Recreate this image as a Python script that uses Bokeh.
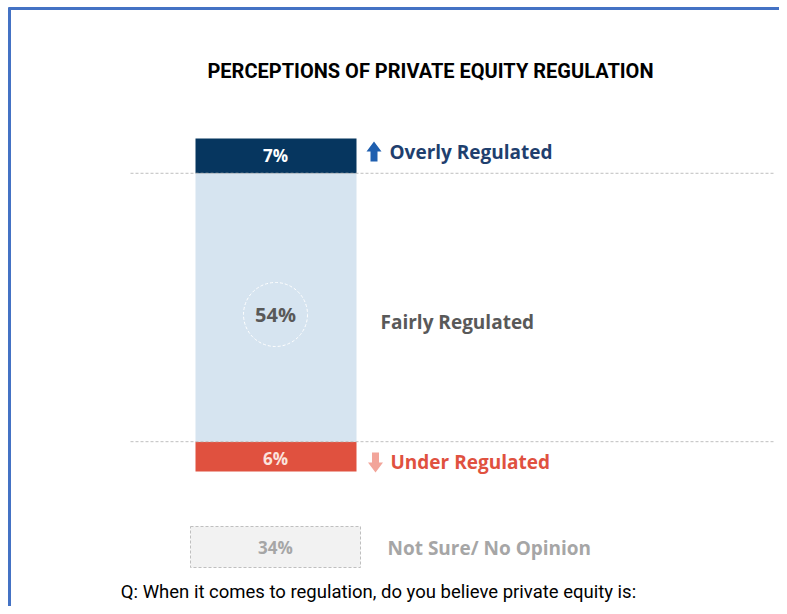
from bokeh.plotting import figure
from bokeh.models import Range1d
from bokeh.core.properties import value
from bokeh.embed import file_html
from bokeh.resources import INLINE
import numpy as np

# ---- data ----
categories = ["Under Regulated", "Fairly Regulated", "Overly Regulated"]
values = [6, 54, 7]
value_labels = ["6%", "54%", "7%"]
not_sure_label = "Not Sure/ No Opinion"
not_sure_value = 34
title = "PERCEPTIONS OF PRIVATE EQUITY REGULATION"
question = "Q: When it comes to regulation, do you believe private equity is:"

# ---- layout helpers (image pixel -> data) ----
W, H = 779, 606
PX = 333 / 67.0           # pixels per percentage point
BASE = 471                # image y of 0%
def X(px):
    return px
def Y(py):
    return (BASE - py) / PX

p = figure(width=W, height=H, output_backend="svg", toolbar_location=None,
           x_range=Range1d(0, W), y_range=Range1d(Y(H), Y(0)),
           min_border=0, background_fill_color="white", border_fill_color="white")
p.axis.visible = False
p.grid.visible = False
p.outline_line_color = None

bottoms = np.concatenate([[0], np.cumsum(values)[:-1]])
tops = np.cumsum(values)
bar_colors = ["#E0513F", "#D6E4F0", "#06365F"]
p.quad(left=X(195), right=X(356), bottom=bottoms, top=tops,
       fill_color=bar_colors, line_color=None)

# dashed guide lines at category boundaries
for yv in [tops[0], tops[1]]:
    p.segment(x0=X(130), x1=X(775), y0=yv, y1=yv, line_color="#BFBFBF",
              line_width=1, line_dash="3 2")

# dashed circle around the middle value
mid = (bottoms[1] + tops[1]) / 2
p.scatter(x=[X(275)], y=[mid - 7 / PX], size=64, marker="circle",
          fill_color=None, line_color="white", line_dash="3 2", line_width=1)

# value labels in bars (offset in pixels, positive = down)
centers = (bottoms + tops) / 2
val_offsets = [2, 7, 0]
val_colors = ["#FBE3DD", "#595959", "white"]
val_sizes = ["17px", "20px", "17px"]
for c, o, t, col, fs in zip(centers, val_offsets, value_labels, val_colors, val_sizes):
    p.text(x=[X(275)], y=[c - o / PX], text=[t], text_align="center",
           text_baseline="middle", text_color=col, text_font_size=fs,
           text_font=value("Open Sans"), text_font_style="bold")

# category labels
lab_x = [390, 380, 389]
lab_y = [461, 321, 151]
lab_colors = ["#E0513F", "#595959", "#1F3F6E"]
for t, lx, ly, col in zip(categories, lab_x, lab_y, lab_colors):
    p.text(x=[X(lx)], y=[Y(ly)], text=[t], text_align="left",
           text_baseline="middle", text_color=col, text_font_size="19px",
           text_font=value("Open Sans"), text_font_style="bold")

# arrows
def arrow(cx, cy, up, color):
    hw, sw, hh, sh = 7.5, 3.5, 10, 10
    if up:
        xs = [cx - hw, cx, cx + hw, cx + sw, cx + sw, cx - sw, cx - sw]
        ys = [cy, cy - hh, cy, cy, cy + sh, cy + sh, cy]
    else:
        xs = [cx - hw, cx, cx + hw, cx + sw, cx + sw, cx - sw, cx - sw]
        ys = [cy, cy + hh, cy, cy, cy - sh, cy - sh, cy]
    p.patch(x=[X(v) for v in xs], y=[Y(v) for v in ys], fill_color=color,
            line_color=None)
arrow(373.5, 151, True, "#1F5FAF")
arrow(375, 462, False, "#F2A59A")

# not sure box
p.quad(left=X(190), right=X(360), bottom=Y(567), top=Y(526),
       fill_color="#F2F2F2", line_color="#BFBFBF", line_dash="3 2", line_width=1)
p.text(x=[X(275)], y=[Y(547)], text=[f"{not_sure_value}%"], text_align="center",
       text_baseline="middle", text_color="#A6A6A6", text_font_size="17px",
       text_font=value("Open Sans"), text_font_style="bold")
p.text(x=[X(387)], y=[Y(547)], text=[not_sure_label], text_align="left",
       text_baseline="middle", text_color="#A6A6A6", text_font_size="19px",
       text_font=value("Open Sans"), text_font_style="bold")

# title & question
p.text(x=[X(430)], y=[Y(70)], text=[title], text_align="center",
       text_baseline="middle", text_color="black", text_font_size="20px",
       text_font=value("Roboto"), text_font_style="bold")
p.text(x=[X(378)], y=[Y(591)], text=[question], text_align="center",
       text_baseline="middle", text_color="black", text_font_size="18.5px",
       text_font=value("Roboto"))

# frame (left & top border)
p.segment(x0=[X(9), X(8)], x1=[X(9), X(W + 10)], y0=[Y(7), Y(8)], y1=[Y(H + 10), Y(8)],
          line_color="#4472C4", line_width=3)

open("out.html", "w").write(file_html(p, INLINE))
